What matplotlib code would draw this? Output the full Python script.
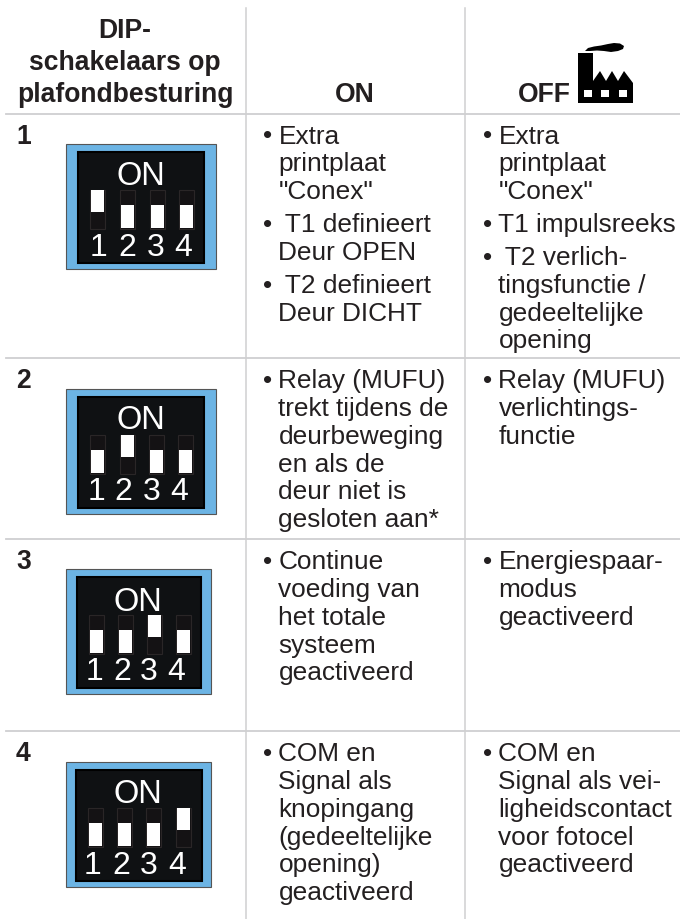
#!/usr/bin/env python3
import matplotlib
matplotlib.use("Agg")
import matplotlib.pyplot as plt
from matplotlib.patches import Rectangle, Polygon

plt.rcParams['font.family'] = ['Liberation Sans', 'DejaVu Sans']

W, H = 680, 919
TEXT = '#231f20'
LINE = '#cfcfd1'
BLUE = '#6cb4e4'

header_lines = ["DIP-", "schakelaars op", "plafondbesturing"]
row_numbers = ["1", "2", "3", "4"]
switch_labels = ["1", "2", "3", "4"]
switch_up = [1, 2, 3, 4]  # which switch is up in each row

on_items = [
    [["Extra", "printplaat", "\"Conex\""], [" T1 definieert", "Deur OPEN"], [" T2 definieert", "Deur DICHT"]],
    [["Relay (MUFU)", "trekt tijdens de", "deurbeweging", "en als de", "deur niet is", "gesloten aan*"]],
    [["Continue", "voeding van", "het totale", "systeem", "geactiveerd"]],
    [["COM en", "Signal als", "knopingang", "(gedeeltelijke", "opening)", "geactiveerd"]],
]
off_items = [
    [["Extra", "printplaat", "\"Conex\""], ["T1 impulsreeks"], [" T2 verlich-", "tingsfunctie /", "gedeeltelijke", "opening"]],
    [["Relay (MUFU)", "verlichtings-", "functie"]],
    [["Energiespaar-", "modus", "geactiveerd"]],
    [["COM en", "Signal als vei-", "ligheidscontact", "voor fotocel", "geactiveerd"]],
]

fig = plt.figure(figsize=(W / 100, H / 100), dpi=100)
ax = fig.add_axes([0, 0, 1, 1])
ax.set_xlim(0, W)
ax.set_ylim(H, 0)
ax.axis('off')

FS = 18.9
BOLD = 19.1
LS = 27.85

# grid
ax.plot([246, 246], [8, 919], color=LINE, lw=1.1)
ax.plot([465, 465], [8, 919], color=LINE, lw=1.1)
for y in [113.5, 358, 539, 731]:
    ax.plot([6, 680], [y, y], color=LINE, lw=1.3)

# header
for i, s in enumerate(header_lines):
    ax.text(125, 38 + i * 32, s, fontsize=BOLD, fontweight='bold', color=TEXT, ha='center', va='baseline')
ax.text(355, 102, "ON", fontsize=BOLD, fontweight='bold', color=TEXT, ha='center', va='baseline')
ax.text(544, 102, "OFF", fontsize=BOLD, fontweight='bold', color=TEXT, ha='center', va='baseline')

# factory icon
ax.add_patch(Polygon([(578, 103), (578, 53), (593, 53), (593, 81), (600, 71), (606, 81), (612, 71), (618, 81),
                      (624, 71), (633, 83), (633, 103)], closed=True, fc='black', ec='none'))
for x in [584, 601, 619]:
    ax.add_patch(Rectangle((x, 90), 8, 7, fc='white', ec='none'))
ax.add_patch(Polygon([(585, 51), (588, 48), (594, 46.5), (601, 45.5), (608, 44), (614, 43), (620, 43.5), (624, 46),
                      (623, 49), (618, 51), (611, 52), (604, 51), (597, 50.5), (590, 51)],
                     closed=True, fc='black', ec='none'))


def draw_switch(x0, x1, y0, inner, slots, digits, on_x, on_y, up):
    ax.add_patch(Rectangle((x0, y0), x1 - x0, 125, fc=BLUE, ec='#555555', lw=0.8))
    ax.add_patch(Rectangle((inner[0], y0 + 7.5), inner[1] - inner[0], 111, fc='#0f1113', ec='black', lw=1.5))
    ax.text(on_x, y0 + on_y, "ON", fontsize=23.5, color='white', ha='center', va='baseline')
    for i, s in enumerate(switch_labels):
        cx = slots[i]
        ax.add_patch(Rectangle((cx - 7.5, y0 + 46), 15, 38.5, fc='#141214', ec='#2a2627', lw=0.8))
        if i + 1 == up:
            ax.add_patch(Rectangle((cx - 6.5, y0 + 46), 13, 22, fc='white', ec='none'))
        else:
            ax.add_patch(Rectangle((cx - 6.5, y0 + 61), 13, 23, fc='white', ec='none'))
        ax.text(digits[i], y0 + 111.5, s, fontsize=23, color='white', ha='center', va='baseline')


def draw_items(x, y, items):
    for item in items:
        ax.text(x, y, "•", fontsize=FS, color=TEXT, ha='left', va='baseline')
        for s in item:
            ax.text(x + 15.5, y, s, fontsize=FS, color=TEXT, ha='left', va='baseline')
            y += LS
        y += 5


row_base = [143.5, 388, 569, 761]
switches = [
    (66, 216, 144, (78, 204), (97, 127, 157, 186), (99, 127, 156, 183), 141, 41),
    (66, 216, 389, (78, 204), (97, 127, 156, 185), (96, 123, 152, 179), 141, 40),
    (66, 211, 569, (77, 201), (96, 125, 154, 183), (94, 122, 149, 176), 138, 42),
    (66, 211, 762, (76, 202), (95, 124, 153, 183), (93, 121, 149, 177), 138, 41),
]
for r in range(4):
    ax.text(16, row_base[r], row_numbers[r], fontsize=BOLD, fontweight='bold', color=TEXT, ha='left', va='baseline')
    x0, x1, y0, inner, slots, digits, on_x, on_y = switches[r]
    draw_switch(x0, x1, y0, inner, slots, digits, on_x, on_y, switch_up[r])
    draw_items(263, row_base[r], on_items[r])
    draw_items(483, row_base[r], off_items[r])

fig.savefig('out.png', dpi=100)
